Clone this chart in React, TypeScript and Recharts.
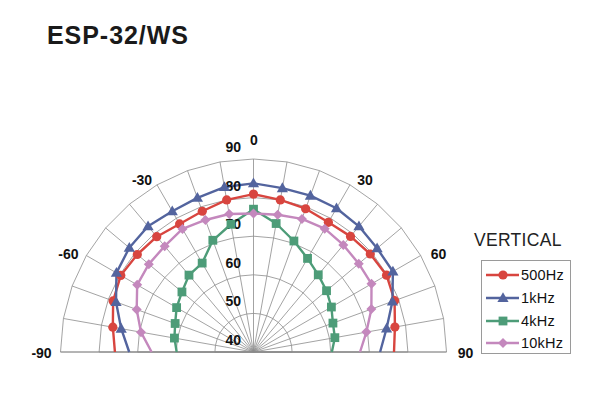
import React from "react";
import {
  RadarChart,
  PolarGrid,
  PolarAngleAxis,
  PolarRadiusAxis,
  Radar,
  Legend,
} from "recharts";

// polar response, angle in degrees (-90 .. 90), level in dB
const angles = [-90, -80, -70, -60, -50, -40, -30, -20, -10, 0, 10, 20, 30, 40, 50, 60, 70, 80, 90];
const hz500 = [75.9, 77.0, 78.7, 79.7, 79.3, 79.0, 78.3, 78.8, 80.0, 80.9, 80.0, 79.5, 78.8, 79.1, 79.5, 79.8, 78.9, 77.2, 76.4];
const hz1k = [72.2, 74.8, 77.9, 81.0, 82.0, 82.5, 82.1, 82.5, 83.4, 83.7, 83.1, 83.1, 83.0, 82.5, 81.8, 81.7, 78.3, 75.0, 72.8];
const hz4k = [59.9, 60.8, 61.6, 63.0, 64.2, 66.0, 66.6, 70.8, 73.6, 77.0, 73.8, 70.6, 68.0, 66.1, 64.7, 63.3, 61.9, 61.4, 60.3];
const hz10k = [66.4, 69.6, 72.2, 74.8, 75.4, 75.8, 76.8, 76.4, 76.3, 75.9, 76.1, 76.7, 76.9, 76.2, 75.6, 75.3, 72.5, 69.7, 67.6];
const radiusDomain = [40, 90];

const data = angles.map((a, i) => ({
  angle: a,
  hz500: hz500[i],
  hz1k: hz1k[i],
  hz4k: hz4k[i],
  hz10k: hz10k[i],
}));

const series = [
  { key: "hz500", name: "500Hz", color: "#d8453f", marker: "circle" },
  { key: "hz1k", name: "1kHz", color: "#53649e", marker: "triangle" },
  { key: "hz4k", name: "4kHz", color: "#4d9c78", marker: "square" },
  { key: "hz10k", name: "10kHz", color: "#c488bd", marker: "diamond" },
];

const FONT = "'Liberation Sans', Arial, sans-serif";

function Marker({ shape, x, y, color }: any) {
  if (shape === "circle") return <circle cx={x} cy={y} r={4.6} fill={color} />;
  if (shape === "triangle")
    return <polygon points={`${x},${y - 5.8} ${x + 5.6},${y + 4} ${x - 5.6},${y + 4}`} fill={color} />;
  if (shape === "square") return <rect x={x - 4.4} y={y - 4.4} width={8.8} height={8.8} fill={color} />;
  return <polygon points={`${x},${y - 5} ${x + 5},${y} ${x},${y + 5} ${x - 5},${y}`} fill={color} />;
}

const makeDot = (shape: string, color: string) => (props: any) => {
  const { cx, cy, index } = props;
  if (index === 0 || index === angles.length - 1) return <g key={index} />;
  return (
    <g key={index}>
      <Marker shape={shape} x={cx} y={cy} color={color} />
    </g>
  );
};

// open line instead of a closed polygon
const makeShape = (color: string) => (props: any) => {
  const pts = (props.points || []).map((p: any) => `${p.x},${p.y}`).join(" ");
  return <polyline points={pts} fill="none" stroke={color} strokeWidth={2.4} strokeLinejoin="round" />;
};

const AngleTick = (props: any) => {
  const { x, y, payload } = props;
  const v = Number(payload.value);
  if (v % 30 !== 0) return <g />;
  const dx = v === 0 ? 0.5 : Math.sign(v) * 11;
  const dy = v === 0 ? -11 : Math.abs(v) === 90 ? 1 : 2.5;
  return (
    <text x={x + dx} y={y + dy + 5} textAnchor="middle" fontFamily={FONT} fontSize={14} fontWeight="bold" fill="#111">
      {v}
    </text>
  );
};

const RadiusTick = (props: any) => {
  const { x, y, payload } = props;
  return (
    <text x={x - 12.5} y={y - 7} textAnchor="end" fontFamily={FONT} fontSize={14} fontWeight="bold" fill="#111">
      {payload.value}
    </text>
  );
};

const LegendBox = () => (
  <div
    style={{
      width: 90,
      height: 94,
      boxSizing: "border-box",
      border: "1px solid #9a9a9a",
      paddingTop: 3,
      fontFamily: FONT,
      fontSize: 14.5,
      color: "#111",
    }}
  >
    {series.map((s) => (
      <div key={s.key} style={{ display: "flex", alignItems: "center", height: 22.7 }}>
        <svg width={38} height={14} style={{ flex: "none" }}>
          <line x1={4} y1={7} x2={37} y2={7} stroke={s.color} strokeWidth={2.4} />
          <Marker shape={s.marker} x={21} y={7} color={s.color} />
        </svg>
        <span style={{ marginLeft: 1, letterSpacing: 0.2 }}>{s.name}</span>
      </div>
    ))}
  </div>
);

export default function App() {
  return (
    <div style={{ position: "absolute", left: 0, top: 0, width: 600, height: 406, background: "#fff" }}>
      <svg width={600} height={406} style={{ position: "absolute", left: 0, top: 0 }}>
        <text x={47} y={44.3} fontFamily={FONT} fontSize={25} fontWeight="bold" fill="#1a1a1a" letterSpacing={0.95}>
          ESP-32/WS
        </text>
        <text x={474} y={245.5} fontFamily={FONT} fontSize={17.5} fill="#222" letterSpacing={0.3}>
          VERTICAL
        </text>
      </svg>
      <div style={{ position: "absolute", left: 0, top: 0 }}>
        <RadarChart
          width={600}
          height={406}
          data={data}
          cx={253.5}
          cy={352}
          outerRadius={193}
          startAngle={180}
          endAngle={-10}
          margin={{ top: 0, right: 0, bottom: 0, left: 0 }}
        >
          <PolarGrid gridType="polygon" stroke="#8c8c8c" strokeWidth={0.8} />
          <PolarAngleAxis dataKey="angle" axisLine={false} tickLine={false} tick={AngleTick} />
          <PolarRadiusAxis
            angle={90}
            type="number"
            domain={radiusDomain}
            tickCount={6}
            axisLine={false}
            tick={RadiusTick}
          />
          {series.map((s) => (
            <Radar
              key={s.key}
              name={s.name}
              dataKey={s.key}
              stroke={s.color}
              fill="none"
              shape={makeShape(s.color)}
              dot={makeDot(s.marker, s.color)}
              isAnimationActive={false}
            />
          ))}
          <Legend
            content={LegendBox}
            wrapperStyle={{ position: "absolute", left: 481, top: 260, width: 90, height: 94 }}
          />
        </RadarChart>
      </div>
    </div>
  );
}
